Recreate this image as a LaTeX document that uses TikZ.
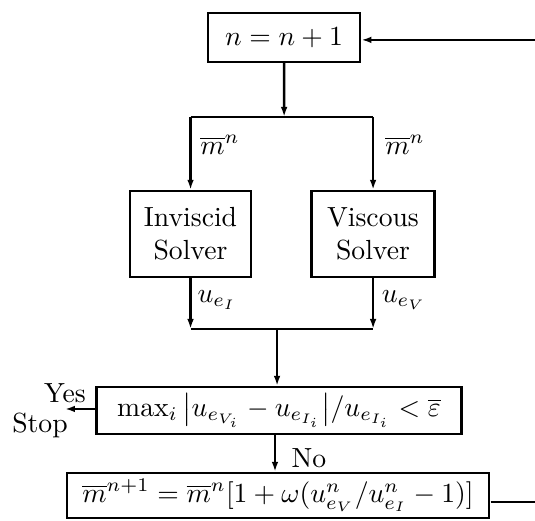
\documentclass[tikz,border=0pt]{standalone}
\usetikzlibrary{arrows.meta}
\tikzset{
  blk/.style={draw, line width=0.9pt, inner sep=0pt, align=center},
  flow/.style={line width=0.9pt, -{Latex[length=3.6pt,width=2.4pt]}},
  wire/.style={line width=0.9pt}
}
\begin{document}
\begin{tikzpicture}[scale=1.27]
    \useasboundingbox (0,0) rectangle (5.35,5.21);  % keeps the page at the reference size

    \node[blk, minimum width=55pt, minimum height=17.6pt] (count) at (2.84,4.835) {$n = n + 1$};

    \node[blk, minimum width=43.6pt, minimum height=31pt] (inv) at (1.905,2.87) {Inviscid\\Solver};
    \node[blk, minimum width=44.6pt, minimum height=31pt] (visc) at (3.73,2.87) {Viscous\\Solver};

    \node[blk, minimum width=131.8pt, minimum height=16.9pt] (check) at (2.79,1.105)
        {$\max_i\,\bigl|u_{e_{V_i}} - u_{e_{I_i}}\bigr|/u_{e_{I_i}} < \overline{\varepsilon}$};
    \node[blk, minimum width=152.6pt, minimum height=16.2pt] (upd) at (2.78,0.255)
        {$\overline{m}^{n+1} = \overline{m}^{n}[1 + \omega(u^n_{e_V}/u^n_{e_I} - 1)]$};

    \coordinate (split) at (count.south |- 0,4.04);
    \coordinate (merge) at (2.77,1.92);
    \coordinate (stop) at (0.65,1.12);
    \coordinate (outR) at (5.35,0.19);
    \coordinate (inR) at (5.35,4.81);

    % split to the two solvers
    \draw[flow] (count.south) -- (split);
    \draw[wire] (inv.north |- split) -- (visc.north |- split);
    \draw[flow] (inv.north |- split) -- (inv.north);
    \draw[flow] (visc.north |- split) -- (visc.north);
    \node at (2.20,3.76) {$\overline{m}^n$};
    \node at (4.05,3.76) {$\overline{m}^n$};

    % merge of the edge velocities
    \draw[flow] (inv.south) -- (inv.south |- merge);
    \draw[flow] (visc.south) -- (visc.south |- merge);
    \draw[wire] (inv.south |- merge) -- (visc.south |- merge);
    \node at (2.17,2.21) {$u_{e_I}$};
    \node at (4.04,2.21) {$u_{e_V}$};
    \draw[flow] (merge) -- (merge |- check.north);

    % convergence test
    \draw[flow] (check.west |- stop) -- (stop);
    \node (yes) at (0.65,1.28) {Yes};
    \node (stoplbl) at (0.40,0.96) {Stop};
    \draw[flow] (check.south -| 2.75,0) -- (upd.north -| 2.75,0);
    \node (no) at (3.09,0.63) {No};

    % loop back
    \draw[wire] (upd.east |- outR) -- (outR);
    \draw[flow] (inR) -- (count.east |- inR);
\end{tikzpicture}
\end{document}
